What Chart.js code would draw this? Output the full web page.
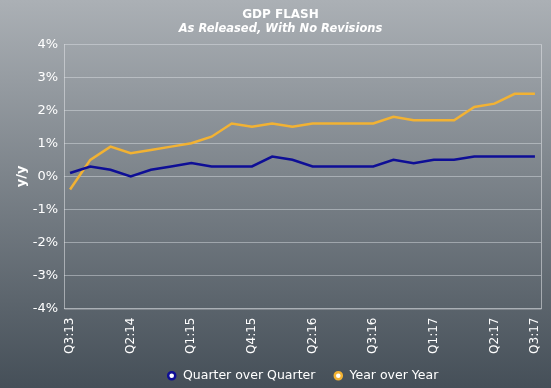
<!DOCTYPE html>
<html>
<head>
<meta charset="utf-8">
<script src="https://cdn.jsdelivr.net/npm/chart.js@4"></script>
<style>
    html, body { margin: 0; padding: 0; background: #454f58; }
    #wrap { width: 551px; height: 388px; position: relative; }
</style>
</head>
<body>
<div id="wrap"><canvas id="gdpChart"></canvas></div>
<script>
// data
const categories = ['Q3:13', '', '', 'Q2:14', '', '', 'Q1:15', '', '', 'Q4:15', '', '',
    'Q2:16', '', '', 'Q3:16', '', '', 'Q1:17', '', '', 'Q2:17', '', 'Q3:17'];
const qoq = [0.1, 0.3, 0.2, 0.0, 0.2, 0.3, 0.4, 0.3, 0.3, 0.3, 0.6, 0.5,
    0.3, 0.3, 0.3, 0.3, 0.5, 0.4, 0.5, 0.5, 0.6, 0.6, 0.6, 0.6];
const yoy = [-0.4, 0.5, 0.9, 0.7, 0.8, 0.9, 1.0, 1.2, 1.6, 1.5, 1.6, 1.5,
    1.6, 1.6, 1.6, 1.6, 1.8, 1.7, 1.7, 1.7, 2.1, 2.2, 2.5, 2.5];
const yTicks = [-4, -3, -2, -1, 0, 1, 2, 3, 4];

const labelIdx = categories.map((c, i) => c ? i : -1).filter(i => i >= 0);

// gradient background + box round the plot
const bgPlugin = {
    id: 'bgPlugin',
    beforeDraw(chart) {
        const c = chart.ctx;
        const g = c.createLinearGradient(0, 0, 0, chart.height);
        g.addColorStop(0, '#abb0b5');
        g.addColorStop(1, '#454f58');
        c.save();
        c.fillStyle = g;
        c.fillRect(0, 0, chart.width, chart.height);
        c.restore();
    },
    beforeDatasetsDraw(chart) {
        const a = chart.chartArea;
        const c = chart.ctx;
        c.save();
        c.strokeStyle = 'rgba(225,228,232,0.55)';
        c.lineWidth = 1;
        c.beginPath();
        c.moveTo(a.left + 0.5, a.top);
        c.lineTo(a.left + 0.5, a.bottom + 0.5);
        c.lineTo(a.right + 0.5, a.bottom + 0.5);
        c.lineTo(a.right + 0.5, a.top);
        c.stroke();
        c.restore();
    }
};

const font = 'DejaVu Sans, Verdana, sans-serif';

new Chart(document.getElementById('gdpChart'), {
    type: 'line',
    data: {
        datasets: [{
            label: 'Quarter over Quarter',
            data: qoq.map((v, i) => ({ x: i, y: v })),
            borderColor: '#0e0e96',
            backgroundColor: '#ffffff',
            borderWidth: 2.5,
            pointRadius: 0,
            tension: 0
        }, {
            label: 'Year over Year',
            data: yoy.map((v, i) => ({ x: i, y: v })),
            borderColor: '#f2b233',
            backgroundColor: '#ffffff',
            borderWidth: 2.5,
            pointRadius: 0,
            tension: 0
        }]
    },
    options: {
        responsive: true,
        maintainAspectRatio: false,
        animation: false,
        layout: { padding: { left: 20, right: 10, top: 0, bottom: -4 } },
        scales: {
            x: {
                type: 'linear',
                min: -0.3,
                max: 23.3,
                afterBuildTicks: scale => { scale.ticks = labelIdx.map(v => ({ value: v })); },
                afterFit: scale => { scale.height = 55; },
                grid: { display: false },
                border: { display: false },
                ticks: {
                    autoSkip: false,
                    minRotation: 90,
                    maxRotation: 90,
                    padding: 1,
                    color: '#ffffff',
                    font: { family: font, size: 12 },
                    callback: v => categories[v]
                }
            },
            y: {
                min: -4,
                max: 4,
                afterBuildTicks: scale => { scale.ticks = yTicks.map(v => ({ value: v })); },
                afterFit: scale => { scale.width = 44; },
                grid: { color: 'rgba(225,228,232,0.45)', drawTicks: false },
                border: { display: false },
                title: {
                    display: true,
                    text: 'y/y',
                    color: '#ffffff',
                    padding: { top: -6, bottom: 0 },
                    font: { family: font, size: 13, weight: 'bold' }
                },
                ticks: {
                    padding: 6,
                    color: '#ffffff',
                    font: { family: font, size: 13 },
                    callback: v => v + '%'
                }
            }
        },
        plugins: {
            title: {
                display: true,
                text: 'GDP FLASH',
                color: '#ffffff',
                padding: { top: 8, bottom: 0 },
                font: { family: font, size: 12, weight: 'bold' }
            },
            subtitle: {
                display: true,
                text: 'As Released, With No Revisions',
                color: '#ffffff',
                padding: { top: 0, bottom: 8 },
                font: { family: font, size: 11.5, weight: 'bold', style: 'italic' }
            },
            legend: {
                position: 'bottom',
                fullSize: false,
                labels: {
                    color: '#ffffff',
                    usePointStyle: true,
                    pointStyle: 'circle',
                    boxWidth: 10,
                    boxHeight: 5,
                    padding: 6,
                    font: { family: font, size: 12.5 },
                    generateLabels: chart => {
                        const items = Chart.defaults.plugins.legend.labels.generateLabels(chart);
                        items[0].text += '   ';
                        return items;
                    }
                }
            },
            tooltip: { enabled: false }
        }
    },
    plugins: [bgPlugin]
});
</script>
</body>
</html>
